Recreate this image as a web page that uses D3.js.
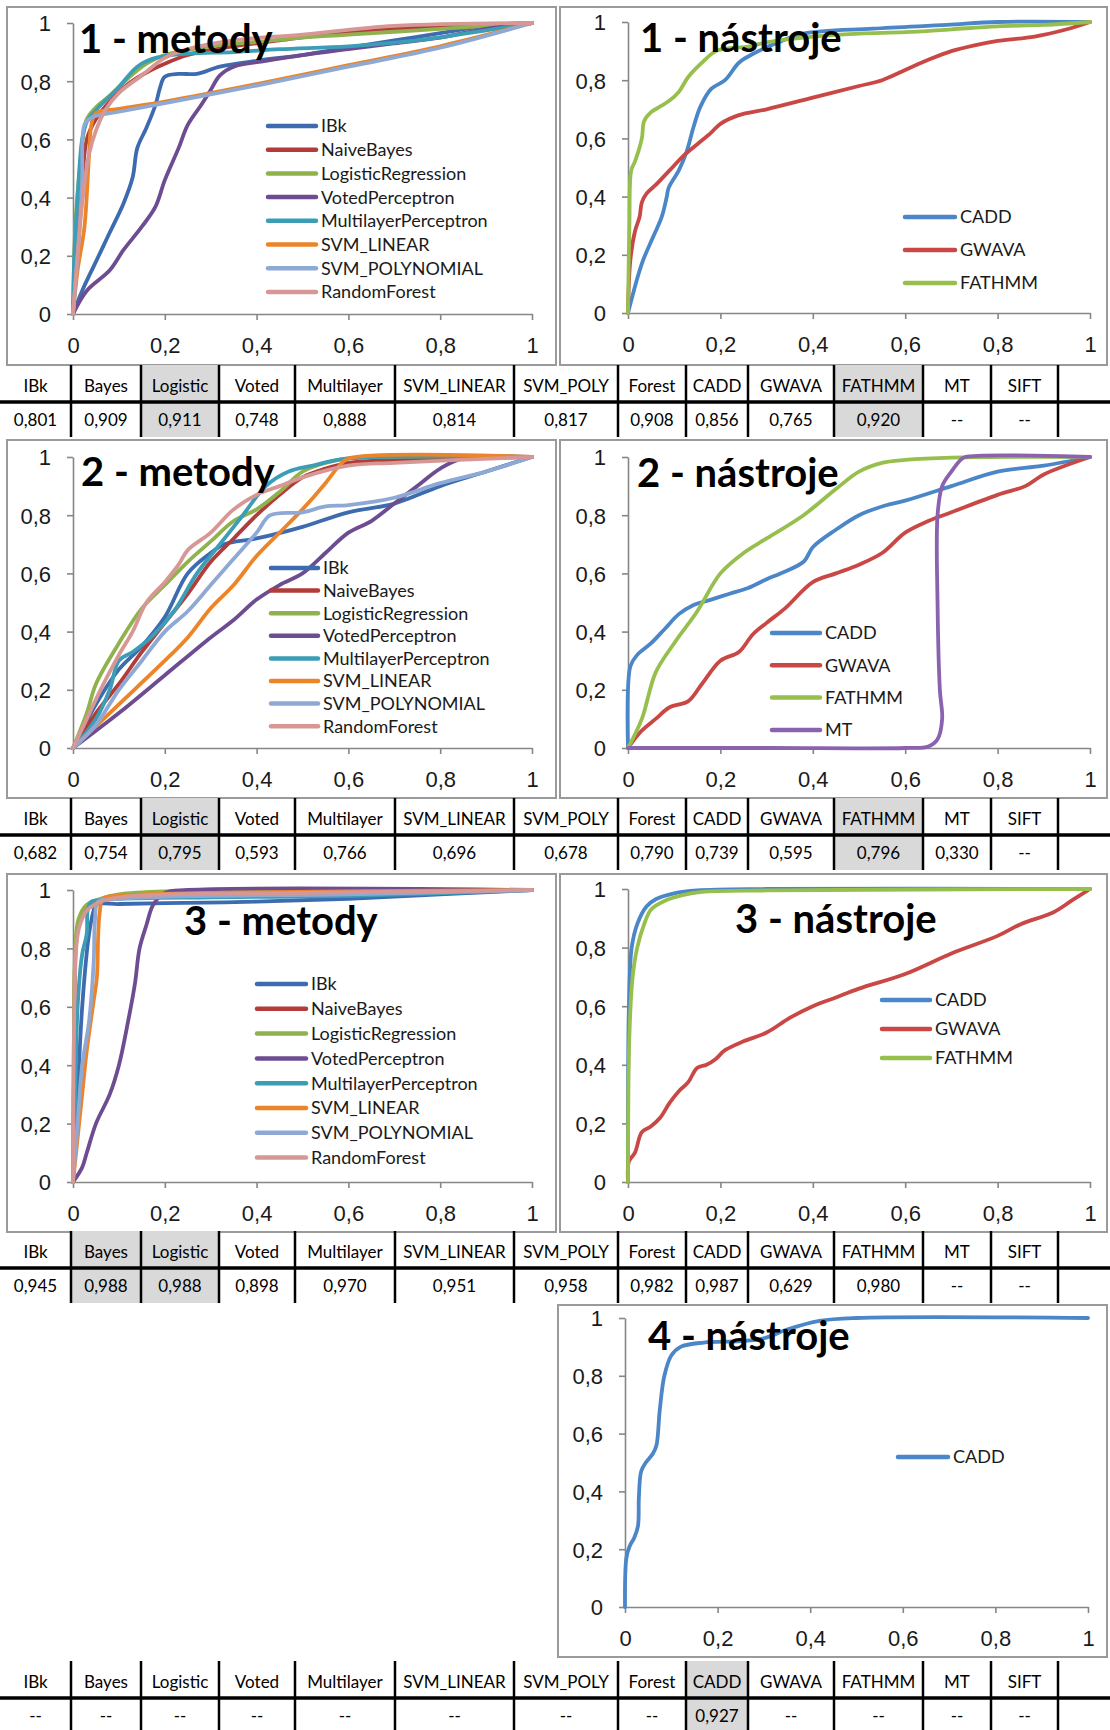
<!DOCTYPE html>
<html>
<head>
<meta charset="utf-8">
<script src="https://cdn.jsdelivr.net/npm/d3@7"></script>
<style>
  body { margin: 0; background: #fff; }
  svg { display: block; font-family: Lato, "Open Sans", sans-serif; }
</style>
</head>
<body>
<script>
// ---- data: ROC points [FPR, TPR] ----
const methodNames = ["IBk", "NaiveBayes", "LogisticRegression", "VotedPerceptron",
  "MultilayerPerceptron", "SVM_LINEAR", "SVM_POLYNOMIAL", "RandomForest"];
const methodColors = ["#3d6baf", "#b23c39", "#8fb24c", "#6d4c92", "#3b9db6", "#ec8529", "#8fa9d5", "#d79795"];
const toolColors = { CADD: "#4a86c8", GWAVA: "#c94744", FATHMM: "#97bf4d", MT: "#8a62b0" };

// set 1 - methods
const m1IBk = [[0,0],[0.02,0.08],[0.05,0.18],[0.08,0.28],[0.11,0.38],[0.13,0.47],[0.14,0.57],[0.16,0.64],[0.18,0.72],[0.19,0.78],[0.2,0.815],[0.23,0.825],[0.27,0.825],[0.32,0.85],[0.4,0.87],[0.5,0.89],[0.6,0.915],[0.7,0.94],[0.8,0.965],[0.9,0.99],[1,1]];
const m1Bayes = [[0,0],[0.01,0.25],[0.02,0.45],[0.03,0.6],[0.05,0.67],[0.08,0.73],[0.12,0.79],[0.16,0.83],[0.2,0.86],[0.25,0.89],[0.35,0.92],[0.45,0.94],[0.55,0.96],[0.7,0.98],[0.85,0.99],[1,1]];
const m1Logistic = [[0,0],[0.005,0.3],[0.015,0.5],[0.03,0.67],[0.05,0.71],[0.08,0.75],[0.12,0.81],[0.16,0.86],[0.2,0.89],[0.3,0.92],[0.4,0.935],[0.5,0.95],[0.6,0.96],[0.7,0.97],[0.8,0.98],[0.9,0.99],[1,1]];
const m1Voted = [[0,0],[0.03,0.08],[0.08,0.15],[0.11,0.22],[0.15,0.3],[0.18,0.37],[0.2,0.46],[0.23,0.57],[0.25,0.65],[0.28,0.72],[0.3,0.77],[0.32,0.82],[0.35,0.85],[0.42,0.87],[0.5,0.89],[0.6,0.91],[0.7,0.93],[0.8,0.95],[0.9,0.98],[1,1]];
const m1Multi = [[0,0],[0.003,0.2],[0.01,0.4],[0.02,0.6],[0.03,0.66],[0.05,0.7],[0.1,0.78],[0.14,0.85],[0.18,0.88],[0.25,0.895],[0.35,0.9],[0.45,0.91],[0.6,0.92],[0.75,0.94],[0.9,0.975],[1,1]];
const m1SvmLin = [[0,0],[0.01,0.15],[0.025,0.3],[0.035,0.55],[0.04,0.65],[0.05,0.69],[0.1,0.705],[0.2,0.73],[0.4,0.79],[0.6,0.855],[0.8,0.92],[1,1]];
const m1SvmPoly = [[0,0],[0.01,0.2],[0.02,0.45],[0.025,0.65],[0.04,0.675],[0.1,0.695],[0.2,0.725],[0.4,0.785],[0.6,0.85],[0.8,0.915],[1,1]];
const m1Forest = [[0,0],[0.01,0.2],[0.02,0.38],[0.035,0.55],[0.05,0.63],[0.07,0.7],[0.1,0.76],[0.15,0.82],[0.2,0.88],[0.25,0.91],[0.35,0.94],[0.5,0.96],[0.7,0.99],[1,1]];

// set 1 - tools
const t1CADD = [[0,0],[0.03,0.17],[0.054,0.26],[0.073,0.33],[0.084,0.4],[0.088,0.43],[0.11,0.49],[0.126,0.55],[0.142,0.64],[0.157,0.71],[0.18,0.77],[0.21,0.8],[0.24,0.86],[0.27,0.89],[0.318,0.925],[0.38,0.96],[0.53,0.977],[0.69,0.99],[0.8,1],[1,1]];
const t1GWAVA = [[0,0],[0.005,0.18],[0.015,0.28],[0.025,0.33],[0.03,0.38],[0.04,0.41],[0.06,0.44],[0.09,0.49],[0.12,0.54],[0.15,0.58],[0.18,0.62],[0.2,0.65],[0.24,0.68],[0.3,0.7],[0.4,0.74],[0.5,0.78],[0.55,0.8],[0.6,0.835],[0.65,0.87],[0.7,0.9],[0.75,0.92],[0.8,0.935],[0.88,0.95],[0.95,0.975],[1,1]];
const t1FATHMM = [[0,0],[0.003,0.3],[0.007,0.49],[0.015,0.52],[0.03,0.6],[0.035,0.66],[0.05,0.69],[0.07,0.71],[0.09,0.73],[0.11,0.76],[0.13,0.81],[0.16,0.86],[0.19,0.9],[0.22,0.91],[0.26,0.915],[0.3,0.93],[0.4,0.95],[0.5,0.96],[0.6,0.965],[0.7,0.975],[0.8,0.985],[0.9,0.99],[1,1]];

// set 2 - methods
const m2IBk = [[0,0],[0.05,0.15],[0.1,0.27],[0.15,0.35],[0.2,0.45],[0.25,0.6],[0.3,0.67],[0.33,0.7],[0.4,0.72],[0.5,0.76],[0.6,0.81],[0.7,0.84],[0.8,0.9],[0.9,0.95],[1,1]];
const m2Bayes = [[0,0],[0.05,0.12],[0.1,0.22],[0.15,0.33],[0.2,0.43],[0.25,0.53],[0.3,0.64],[0.35,0.72],[0.4,0.8],[0.45,0.87],[0.5,0.93],[0.55,0.96],[0.6,0.98],[0.7,0.99],[1,1]];
const m2Logistic = [[0,0],[0.03,0.12],[0.05,0.22],[0.1,0.36],[0.15,0.48],[0.2,0.56],[0.25,0.64],[0.3,0.71],[0.35,0.78],[0.4,0.82],[0.45,0.88],[0.5,0.95],[0.55,0.98],[0.6,0.995],[1,1]];
const m2Voted = [[0,0],[0.1,0.12],[0.2,0.25],[0.3,0.38],[0.35,0.44],[0.4,0.51],[0.45,0.56],[0.5,0.6],[0.55,0.67],[0.6,0.74],[0.65,0.78],[0.7,0.84],[0.75,0.9],[0.8,0.96],[0.85,0.995],[1,1]];
const m2Multi = [[0,0],[0.05,0.1],[0.08,0.2],[0.1,0.3],[0.13,0.33],[0.17,0.38],[0.22,0.47],[0.27,0.6],[0.32,0.7],[0.37,0.8],[0.42,0.9],[0.47,0.95],[0.52,0.97],[0.6,0.995],[1,1]];
const m2SvmLin = [[0,0],[0.1,0.15],[0.2,0.3],[0.25,0.38],[0.3,0.48],[0.35,0.56],[0.4,0.66],[0.45,0.74],[0.5,0.82],[0.55,0.91],[0.58,0.97],[0.6,0.995],[1,1]];
const m2SvmPoly = [[0,0],[0.05,0.08],[0.1,0.2],[0.15,0.3],[0.2,0.4],[0.25,0.47],[0.3,0.56],[0.35,0.65],[0.4,0.74],[0.43,0.8],[0.5,0.81],[0.55,0.83],[0.6,0.835],[0.7,0.86],[0.8,0.91],[0.9,0.95],[1,1]];
const m2Forest = [[0,0],[0.03,0.1],[0.06,0.2],[0.1,0.32],[0.13,0.4],[0.16,0.5],[0.2,0.57],[0.23,0.63],[0.25,0.68],[0.3,0.74],[0.35,0.82],[0.4,0.87],[0.45,0.9],[0.5,0.93],[0.6,0.97],[0.7,0.98],[1,1]];

// set 2 - tools
const t2CADD = [[0,0],[0.005,0.28],[0.02,0.32],[0.05,0.36],[0.08,0.41],[0.11,0.46],[0.14,0.49],[0.18,0.51],[0.22,0.53],[0.26,0.55],[0.3,0.58],[0.33,0.6],[0.38,0.64],[0.4,0.69],[0.45,0.75],[0.5,0.8],[0.55,0.83],[0.6,0.85],[0.7,0.9],[0.8,0.95],[0.9,0.97],[1,1]];
const t2GWAVA = [[0,0],[0.03,0.06],[0.06,0.1],[0.09,0.14],[0.13,0.16],[0.16,0.22],[0.2,0.3],[0.24,0.33],[0.27,0.39],[0.3,0.43],[0.34,0.48],[0.4,0.57],[0.45,0.6],[0.5,0.63],[0.55,0.67],[0.6,0.74],[0.65,0.78],[0.7,0.81],[0.8,0.87],[0.86,0.9],[0.9,0.94],[1,1]];
const t2FATHMM = [[0,0],[0.03,0.1],[0.06,0.26],[0.1,0.36],[0.15,0.47],[0.2,0.6],[0.25,0.67],[0.3,0.72],[0.38,0.8],[0.45,0.89],[0.5,0.95],[0.55,0.98],[0.6,0.99],[0.7,0.998],[1,1]];
const t2MT = [[0,0],[0.3,0],[0.6,0],[0.65,0.005],[0.67,0.03],[0.68,0.1],[0.675,0.2],[0.67,0.5],[0.67,0.8],[0.68,0.9],[0.7,0.95],[0.72,0.99],[0.73,1],[1,1]];

// set 3 - methods
const m3IBk = [[0,0],[0.01,0.3],[0.02,0.6],[0.035,0.85],[0.045,0.93],[0.05,0.95],[0.1,0.952],[0.2,0.955],[0.4,0.96],[0.6,0.97],[0.8,0.985],[1,1]];
const m3Bayes = [[0,0],[0.003,0.5],[0.006,0.8],[0.015,0.9],[0.03,0.94],[0.05,0.96],[0.1,0.98],[0.2,0.99],[0.4,0.995],[1,1]];
const m3Logistic = [[0,0],[0.002,0.5],[0.005,0.8],[0.012,0.9],[0.03,0.95],[0.06,0.97],[0.1,0.985],[0.2,0.995],[1,1]];
const m3Voted = [[0,0],[0.02,0.05],[0.03,0.1],[0.05,0.2],[0.08,0.3],[0.1,0.4],[0.12,0.55],[0.135,0.68],[0.145,0.8],[0.16,0.88],[0.175,0.95],[0.2,0.99],[0.25,1],[1,1]];
const m3Multi = [[0,0],[0.005,0.3],[0.01,0.6],[0.02,0.78],[0.03,0.85],[0.032,0.93],[0.04,0.96],[0.06,0.965],[0.1,0.97],[0.3,0.975],[0.6,0.98],[1,1]];
const m3SvmLin = [[0,0],[0.01,0.15],[0.02,0.3],[0.03,0.45],[0.045,0.62],[0.052,0.7],[0.055,0.85],[0.058,0.92],[0.065,0.97],[0.1,0.98],[0.3,0.99],[1,1]];
const m3SvmPoly = [[0,0],[0.01,0.2],[0.02,0.4],[0.035,0.55],[0.045,0.75],[0.048,0.9],[0.055,0.96],[0.1,0.97],[0.3,0.98],[0.6,0.985],[1,1]];
const m3Forest = [[0,0],[0.003,0.6],[0.008,0.82],[0.015,0.88],[0.03,0.93],[0.06,0.96],[0.1,0.975],[0.2,0.985],[0.5,0.99],[1,1]];

// set 3 - tools
const t3CADD = [[0,0],[0.002,0.6],[0.008,0.8],[0.02,0.88],[0.04,0.94],[0.06,0.965],[0.1,0.985],[0.15,0.995],[0.3,1],[1,1]];
const t3GWAVA = [[0,0],[0.002,0.07],[0.015,0.1],[0.03,0.17],[0.05,0.19],[0.07,0.22],[0.09,0.27],[0.11,0.31],[0.13,0.34],[0.15,0.39],[0.17,0.4],[0.19,0.42],[0.21,0.45],[0.25,0.48],[0.3,0.51],[0.35,0.56],[0.4,0.6],[0.45,0.63],[0.5,0.66],[0.6,0.71],[0.7,0.78],[0.8,0.84],[0.85,0.88],[0.92,0.92],[0.96,0.96],[1,1]];
const t3FATHMM = [[0,0],[0.003,0.5],[0.01,0.7],[0.02,0.8],[0.035,0.88],[0.05,0.93],[0.08,0.96],[0.12,0.98],[0.16,0.99],[0.3,0.995],[1,1]];

// set 4 - tools
const t4CADD = [[0,0],[0.003,0.17],[0.01,0.21],[0.02,0.24],[0.028,0.28],[0.03,0.38],[0.035,0.47],[0.045,0.5],[0.06,0.53],[0.068,0.56],[0.075,0.68],[0.085,0.8],[0.1,0.87],[0.12,0.9],[0.17,0.915],[0.25,0.92],[0.3,0.93],[0.35,0.96],[0.42,0.99],[0.5,1],[1,1]];

// AUC tables
const tableHeaders = ["IBk", "Bayes", "Logistic", "Voted", "Multilayer", "SVM_LINEAR", "SVM_POLY", "Forest", "CADD", "GWAVA", "FATHMM", "MT", "SIFT"];
const auc1 = ["0,801", "0,909", "0,911", "0,748", "0,888", "0,814", "0,817", "0,908", "0,856", "0,765", "0,920", "--", "--"];
const auc2 = ["0,682", "0,754", "0,795", "0,593", "0,766", "0,696", "0,678", "0,790", "0,739", "0,595", "0,796", "0,330", "--"];
const auc3 = ["0,945", "0,988", "0,988", "0,898", "0,970", "0,951", "0,958", "0,982", "0,987", "0,629", "0,980", "--", "--"];
const auc4 = ["--", "--", "--", "--", "--", "--", "--", "--", "0,927", "--", "--", "--", "--"];
const best1 = ["Logistic", "FATHMM"];
const best2 = ["Logistic", "FATHMM"];
const best3 = ["Bayes", "Logistic"];
const best4 = ["CADD"];
const ticks = [0, 0.2, 0.4, 0.6, 0.8, 1];

// ---- layout ----
const W = 1110, H = 1730;
const svg = d3.select("body").append("svg").attr("width", W).attr("height", H);
const fmt = d3.formatLocale({ decimal: ",", thousands: " ", grouping: [3], currency: ["", ""] }).format(".1~f");

const methodSeries = arr => methodNames.map((n, i) => ({ name: n, color: methodColors[i], pts: arr[i] }));
const toolSeries = (names, arr) => names.map((n, i) => ({ name: n, color: toolColors[n], pts: arr[i] }));

const panels = [
  { title: "1 - metody", frame: [7, 7, 556, 365], x: [73, 532], y: [314, 23], tx: 79, ty: 53,
    leg: { x0: 268, x1: 316, y0: 126, dy: 23.7 },
    series: methodSeries([m1IBk, m1Bayes, m1Logistic, m1Voted, m1Multi, m1SvmLin, m1SvmPoly, m1Forest]) },
  { title: "1 - nástroje", frame: [560, 7, 1107, 365], x: [628, 1090], y: [313, 22], tx: 640, ty: 52,
    leg: { x0: 905, x1: 955, y0: 217, dy: 33 },
    series: toolSeries(["CADD", "GWAVA", "FATHMM"], [t1CADD, t1GWAVA, t1FATHMM]) },
  { title: "2 - metody", frame: [7, 440, 556, 798], x: [73, 532], y: [748, 457], tx: 81, ty: 486,
    leg: { x0: 271, x1: 318, y0: 568, dy: 22.6 },
    series: methodSeries([m2IBk, m2Bayes, m2Logistic, m2Voted, m2Multi, m2SvmLin, m2SvmPoly, m2Forest]) },
  { title: "2 - nástroje", frame: [560, 440, 1107, 798], x: [628, 1090], y: [748, 457], tx: 637, ty: 487,
    leg: { x0: 772, x1: 820, y0: 633, dy: 32.3 },
    series: toolSeries(["CADD", "GWAVA", "FATHMM", "MT"], [t2CADD, t2GWAVA, t2FATHMM, t2MT]) },
  { title: "3 - metody", frame: [7, 874, 556, 1232], x: [73, 532], y: [1182, 890], tx: 184, ty: 935,
    leg: { x0: 257, x1: 306, y0: 984, dy: 24.8 },
    series: methodSeries([m3IBk, m3Bayes, m3Logistic, m3Voted, m3Multi, m3SvmLin, m3SvmPoly, m3Forest]) },
  { title: "3 - nástroje", frame: [560, 874, 1107, 1232], x: [628, 1090], y: [1182, 889], tx: 735, ty: 933,
    leg: { x0: 882, x1: 930, y0: 1000, dy: 29 },
    series: toolSeries(["CADD", "GWAVA", "FATHMM"], [t3CADD, t3GWAVA, t3FATHMM]) },
  { title: "4 - nástroje", frame: [558, 1305, 1107, 1657], x: [625, 1088], y: [1607, 1318], tx: 648, ty: 1350,
    leg: { x0: 898, x1: 948, y0: 1457, dy: 30 },
    series: toolSeries(["CADD"], [t4CADD]) }
];

panels.forEach(p => {
  const g = svg.append("g");
  const [fx0, fy0, fx1, fy1] = p.frame;
  g.append("rect").attr("x", fx0).attr("y", fy0).attr("width", fx1 - fx0).attr("height", fy1 - fy0)
    .attr("fill", "#fff").attr("stroke", "#9a9a9a").attr("stroke-width", 2);

  const x = d3.scaleLinear().domain([0, 1]).range(p.x);
  const y = d3.scaleLinear().domain([0, 1]).range(p.y);

  const xAxis = g.append("g").attr("transform", `translate(0,${p.y[0]})`)
    .call(d3.axisBottom(x).tickValues(ticks).tickFormat(fmt).tickSize(6).tickSizeOuter(0).tickPadding(17));
  const yAxis = g.append("g").attr("transform", `translate(${p.x[0]},0)`)
    .call(d3.axisLeft(y).tickValues(ticks).tickFormat(fmt).tickSize(6).tickSizeOuter(0).tickPadding(16));
  [xAxis, yAxis].forEach(a => {
    a.select(".domain").attr("stroke", "#868686").attr("stroke-width", 1.6);
    a.selectAll(".tick line").attr("stroke", "#868686").attr("stroke-width", 1.6);
    a.selectAll(".tick text").attr("fill", "#1a1a1a").style("font-size", "22px");
  });
  yAxis.selectAll(".tick text").attr("dy", "0.36em");

  const line = d3.line().x(d => x(d[0])).y(d => y(d[1])).curve(d3.curveCatmullRom.alpha(0.5));
  g.selectAll("path.roc").data(p.series).join("path").attr("class", "roc")
    .attr("d", d => line(d.pts)).attr("fill", "none").attr("stroke", d => d.color)
    .attr("stroke-width", 3.8).attr("stroke-linejoin", "round").attr("stroke-linecap", "round");

  const leg = g.selectAll("g.leg").data(p.series).join("g").attr("class", "leg")
    .attr("transform", (d, i) => `translate(0,${p.leg.y0 + i * p.leg.dy})`);
  leg.append("line").attr("x1", p.leg.x0).attr("x2", p.leg.x1).attr("stroke", d => d.color)
    .attr("stroke-width", 4.5).attr("stroke-linecap", "round");
  leg.append("text").attr("x", p.leg.x1 + 5).attr("dy", "0.36em").text(d => d.name)
    .style("font-size", "18px").attr("fill", "#1a1a1a");

  g.append("text").attr("x", p.tx).attr("y", p.ty).text(p.title)
    .style("font-size", "40px").style("font-weight", "bold").attr("fill", "#000");
});

// ---- AUC tables ----
const colEdges = [0, 71, 141, 219, 295, 395, 514, 618, 686, 748, 834, 923, 991, 1058, 1110];
const tables = [
  { vals: auc1, best: best1, split: 402 },
  { vals: auc2, best: best2, split: 835 },
  { vals: auc3, best: best3, split: 1268 },
  { vals: auc4, best: best4, split: 1698 }
];
const headH = 37, valH = 35;

tables.forEach(t => {
  const g = svg.append("g");
  const top = t.split - headH, bot = t.split + valH;
  const cols = tableHeaders.map((h, i) => ({ h, v: t.vals[i], x0: colEdges[i], x1: colEdges[i + 1] }));
  g.selectAll("rect").data(cols.filter(c => t.best.includes(c.h))).join("rect")
    .attr("x", c => c.x0).attr("y", top).attr("width", c => c.x1 - c.x0).attr("height", bot - top)
    .attr("fill", "#d9d9d9");
  g.selectAll("line.div").data(colEdges.slice(1, -1)).join("line").attr("class", "div")
    .attr("x1", d => d).attr("x2", d => d).attr("y1", top).attr("y2", bot)
    .attr("stroke", "#000").attr("stroke-width", 2.5);
  g.append("line").attr("x1", 0).attr("x2", W).attr("y1", t.split).attr("y2", t.split)
    .attr("stroke", "#000").attr("stroke-width", 3.5);
  g.selectAll("text.h").data(cols).join("text").attr("class", "h")
    .attr("x", c => (c.x0 + c.x1) / 2).attr("y", t.split - headH / 2 + 2).attr("dy", "0.36em")
    .attr("text-anchor", "middle").style("font-size", "17px").text(c => c.h);
  g.selectAll("text.v").data(cols.filter(c => c.v !== undefined)).join("text").attr("class", "v")
    .attr("x", c => (c.x0 + c.x1) / 2).attr("y", t.split + valH / 2).attr("dy", "0.36em")
    .attr("text-anchor", "middle").style("font-size", "17px").text(c => c.v);
});
</script>
</body>
</html>
